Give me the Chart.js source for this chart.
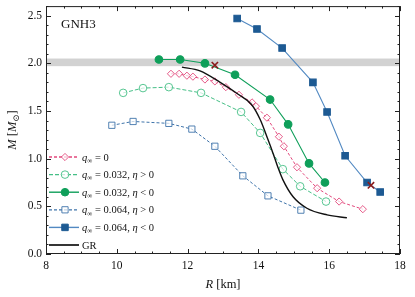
<!DOCTYPE html>
<html>
<head>
<meta charset="utf-8">
<script src="https://cdn.jsdelivr.net/npm/chart.js@4"></script>
<style>
  html, body { margin: 0; padding: 0; background: #fff; }
  #wrap { width: 415px; height: 297px; }
</style>
</head>
<body>
<div id="wrap"><canvas id="mr"></canvas></div>
<script>
const xTicks = [8, 10, 12, 14, 16, 18]
const yTicks = [0, 0.5, 1, 1.5, 2, 2.5]
const band = [1.97, 2.05]

// q = 0
const q0R = [11.53, 11.76, 11.98, 12.15, 12.49, 12.77, 13.08, 13.45, 13.82, 13.93, 14.24, 14.58, 14.72, 15.09, 15.66, 16.28, 16.95]
const q0M = [1.89, 1.89, 1.87, 1.86, 1.83, 1.81, 1.75, 1.67, 1.59, 1.55, 1.43, 1.23, 1.13, 0.91, 0.69, 0.55, 0.47]
// q = 0.032, eta > 0
const q1pR = [10.18, 10.74, 11.47, 12.38, 13.51, 14.05, 14.69, 15.18, 15.91]
const q1pM = [1.69, 1.74, 1.75, 1.69, 1.49, 1.27, 0.89, 0.71, 0.55]
// q = 0.032, eta < 0
const q1nR = [11.19, 11.79, 12.49, 13.34, 14.33, 14.84, 15.43, 15.88]
const q1nM = [2.04, 2.04, 2.0, 1.88, 1.62, 1.36, 0.95, 0.75]
// q = 0.064, eta > 0
const q2pR = [9.86, 10.46, 11.47, 12.12, 12.77, 13.56, 14.27, 15.2]
const q2pM = [1.35, 1.39, 1.37, 1.31, 1.13, 0.82, 0.61, 0.46]
// q = 0.064, eta < 0
const q2nR = [13.4, 13.96, 14.67, 15.54, 15.94, 16.45, 17.07, 17.44]
const q2nM = [2.47, 2.36, 2.16, 1.8, 1.49, 1.03, 0.75, 0.65]
// GR
const grR = [11.84, 12.35, 12.92, 13.45, 13.8, 14.05, 14.27, 14.41, 14.55, 14.69, 14.98, 15.37, 15.94, 16.5]
const grM = [1.96, 1.92, 1.8, 1.67, 1.57, 1.41, 1.2, 1.06, 0.91, 0.78, 0.6, 0.48, 0.41, 0.38]
// crosses
const crossR = [12.77, 17.18]
const crossM = [1.98, 0.72]

const legendLabels = [
  [{t: 'q', it: 1}, {t: '∞', sub: 1}, {t: ' = 0'}],
  [{t: 'q', it: 1}, {t: '∞', sub: 1}, {t: ' = 0.032, '}, {t: 'η', it: 1}, {t: ' > 0'}],
  [{t: 'q', it: 1}, {t: '∞', sub: 1}, {t: ' = 0.032, '}, {t: 'η', it: 1}, {t: ' < 0'}],
  [{t: 'q', it: 1}, {t: '∞', sub: 1}, {t: ' = 0.064, '}, {t: 'η', it: 1}, {t: ' > 0'}],
  [{t: 'q', it: 1}, {t: '∞', sub: 1}, {t: ' = 0.064, '}, {t: 'η', it: 1}, {t: ' < 0'}],
  [{t: 'GR'}]
]

const SERIF = '"Liberation Serif", "DejaVu Serif", serif'
const pink = '#e2487c'
const lgreen = '#45bf86'
const green = '#0f9f5a'
const blue = '#3f74aa'
const dblue = '#1d5a93'
const lblue = '#5289c2'

const pts = (xs, ys) => xs.map((x, i) => ({x, y: ys[i]}))

const datasets = [
  {data: pts(crossR, crossM), showLine: false, pointStyle: 'crossRot', pointRadius: 4.5,
    borderColor: '#8a1c1c', borderWidth: 1.6},
  {data: pts(q2nR, q2nM), borderColor: lblue, borderWidth: 1.1, pointStyle: 'rect', pointRadius: 4.6,
    pointBackgroundColor: dblue, pointBorderColor: dblue},
  {data: pts(q1nR, q1nM), borderColor: green, borderWidth: 1.1, pointStyle: 'circle', pointRadius: 3.8,
    pointBackgroundColor: green, pointBorderColor: green},
  {data: pts(grR, grM), borderColor: '#111', borderWidth: 1.4, pointRadius: 0, cubicInterpolationMode: 'monotone'},
  {data: pts(q0R, q0M), borderColor: pink, borderWidth: 1, borderDash: [3, 2], pointStyle: 'rectRot', pointRadius: 3.6,
    pointBackgroundColor: 'rgba(255,255,255,0.7)', pointBorderColor: pink, pointBorderWidth: 0.9},
  {data: pts(q1pR, q1pM), borderColor: lgreen, borderWidth: 1, borderDash: [4, 2], pointStyle: 'circle', pointRadius: 3.8,
    pointBackgroundColor: 'rgba(255,255,255,0.7)', pointBorderColor: lgreen, pointBorderWidth: 0.9},
  {data: pts(q2pR, q2pM), borderColor: blue, borderWidth: 1, borderDash: [3, 2], pointStyle: 'rect', pointRadius: 4.4,
    pointBackgroundColor: 'rgba(255,255,255,0.7)', pointBorderColor: blue, pointBorderWidth: 0.9}
]

// legend samples match datasets order above
const legendSamples = [datasets[4], datasets[5], datasets[2], datasets[6], datasets[1], datasets[3]]

function rich(ctx, parts, x, y, size, measureOnly) {
  let w = 0
  for (const p of parts) {
    const s = p.sub ? size * 0.68 : size
    ctx.font = (p.it ? 'italic ' : '') + s + 'px ' + SERIF
    if (!measureOnly) ctx.fillText(p.t, x + w, y + (p.sub ? size * 0.22 : 0))
    w += ctx.measureText(p.t).width
  }
  return w
}

const decor = {
  id: 'decor',
  beforeDatasetsDraw(chart) {
    const {ctx, chartArea: a, scales: {y}} = chart
    ctx.save()
    ctx.fillStyle = '#d2d2d2'
    const y1 = y.getPixelForValue(band[1]), y0 = y.getPixelForValue(band[0])
    ctx.fillRect(a.left, y1, a.right - a.left, y0 - y1)
    ctx.restore()
  },
  afterDraw(chart) {
    const {ctx, chartArea: a, scales: {x, y}} = chart
    ctx.save()
    ctx.strokeStyle = '#222'
    ctx.lineWidth = 1
    ctx.strokeRect(a.left + 0.5, a.top + 0.5, a.right - a.left - 1, a.bottom - a.top - 1)
    ctx.beginPath()
    for (let v = 8; v <= 18.001; v += 0.5) {
      const px = Math.round(x.getPixelForValue(v)) + 0.5
      const len = Math.abs(v - Math.round(v / 2) * 2) < 1e-6 ? 5 : 2.5
      ctx.moveTo(px, a.bottom); ctx.lineTo(px, a.bottom - len)
      ctx.moveTo(px, a.top); ctx.lineTo(px, a.top + len)
    }
    for (let i = 0; i <= 26; i++) {
      const v = i / 10
      const py = Math.round(y.getPixelForValue(v)) + 0.5
      const len = i % 5 === 0 ? 5 : 2.5
      ctx.moveTo(a.left, py); ctx.lineTo(a.left + len, py)
      ctx.moveTo(a.right, py); ctx.lineTo(a.right - len, py)
    }
    ctx.stroke()

    ctx.fillStyle = '#111'
    ctx.textBaseline = 'alphabetic'
    ctx.font = '13px ' + SERIF
    ctx.fillText('GNH3', a.left + 15, a.top + 22)

    // x title
    const xt = [{t: 'R', it: 1}, {t: ' [km]'}]
    const xw = rich(ctx, xt, 0, 0, 12.5, true)
    rich(ctx, xt, (a.left + a.right) / 2 - xw / 2, 288, 12.5)

    // y title
    const yt = [{t: 'M', it: 1}, {t: ' ['}, {t: 'M', it: 1}, {t: '⊙', sub: 1}, {t: ']'}]
    const yw = rich(ctx, yt, 0, 0, 12.5, true)
    ctx.translate(16, (a.top + a.bottom) / 2)
    ctx.rotate(-Math.PI / 2)
    rich(ctx, yt, -yw / 2, 0, 12.5)
    ctx.restore()

    // legend
    ctx.save()
    legendLabels.forEach((lab, i) => {
      const ds = legendSamples[i]
      const ly = 157 + i * 17.6
      ctx.strokeStyle = ds.borderColor
      ctx.lineWidth = ds.borderWidth + 0.3
      ctx.setLineDash(ds.borderDash || [])
      ctx.beginPath(); ctx.moveTo(49, ly); ctx.lineTo(79, ly); ctx.stroke()
      ctx.setLineDash([])
      if (ds.pointRadius) {
        ctx.fillStyle = ds.pointBackgroundColor
        ctx.strokeStyle = ds.pointBorderColor
        ctx.lineWidth = ds.pointBorderWidth || 1
        Chart.helpers.drawPoint(ctx, {pointStyle: ds.pointStyle, radius: ds.pointRadius, borderWidth: ctx.lineWidth}, 65, ly)
      }
      ctx.fillStyle = '#111'
      rich(ctx, lab, 82, ly + 3.5, 10.5)
    })
    ctx.restore()
  }
}

new Chart(document.getElementById('mr'), {
  type: 'scatter',
  data: {datasets: datasets.map(d => Object.assign({showLine: true, fill: false}, d))},
  options: {
    responsive: true,
    maintainAspectRatio: false,
    animation: false,
    devicePixelRatio: 1,
    layout: {padding: {top: 6, right: 15, left: 0, bottom: 0}},
    plugins: {legend: {display: false}, tooltip: {enabled: false}},
    scales: {
      x: {
        type: 'linear', min: 8, max: 18,
        afterFit: s => { s.height = 43; s.paddingLeft = 0; s.paddingRight = 0 },
        afterBuildTicks: s => { s.ticks = xTicks.map(v => ({value: v})) },
        grid: {display: false, drawTicks: false},
        border: {display: false},
        ticks: {padding: 5, color: '#111', font: {family: SERIF, size: 11.5}, callback: v => String(v)}
      },
      y: {
        type: 'linear', min: 0, max: 2.6,
        afterFit: s => { s.width = 46; s.paddingTop = 0; s.paddingBottom = 0 },
        afterBuildTicks: s => { s.ticks = yTicks.map(v => ({value: v})) },
        grid: {display: false, drawTicks: false},
        border: {display: false},
        ticks: {padding: 4, color: '#111', font: {family: SERIF, size: 11.5}, callback: v => v.toFixed(1)}
      }
    }
  },
  plugins: [decor]
})
</script>
</body>
</html>
